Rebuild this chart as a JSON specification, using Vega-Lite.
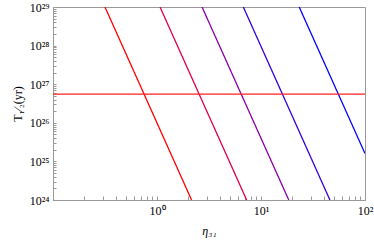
{
  "$schema": "https://vega.github.io/schema/vega-lite/v6.json",
  "autosize": "none",
  "width": 312,
  "height": 193,
  "padding": {"left": 53, "top": 7, "right": 9, "bottom": 40},
  "config": {
    "view": {"stroke": "#999999", "strokeWidth": 1},
    "font": "Liberation Serif",
    "axis": {
      "domainColor": "#999999",
      "tickColor": "#999999",
      "grid": false,
      "labelFont": "Liberation Serif",
      "titleFont": "Liberation Serif",
      "labelFontSize": 12,
      "titleFontSize": 12,
      "labelColor": "#000000",
      "titleColor": "#000000",
      "titleFontWeight": "normal",
      "labelOverlap": false,
      "labelFlush": false
    }
  },
  "data": {
    "values": [
      {"series": "a", "x": 0.316, "y": 1e29},
      {"series": "a", "x": 2.15, "y": 1e24},
      {"series": "b", "x": 1.069, "y": 1e29},
      {"series": "b", "x": 7.28, "y": 1e24},
      {"series": "c", "x": 2.71, "y": 1e29},
      {"series": "c", "x": 18.5, "y": 1e24},
      {"series": "d", "x": 6.76, "y": 1e29},
      {"series": "d", "x": 46.0, "y": 1e24},
      {"series": "e", "x": 23.3, "y": 1e29},
      {"series": "e", "x": 100, "y": 1.6e25},
      {"series": "h", "x": 0.1, "y": 5.5e26},
      {"series": "h", "x": 100, "y": 5.5e26}
    ]
  },
  "mark": {"type": "line", "strokeWidth": 1.3, "clip": true},
  "encoding": {
    "x": {
      "field": "x",
      "type": "quantitative",
      "scale": {"type": "log", "domain": [0.1, 100], "nice": false},
      "title": "η₃₁",
      "axis": {
        "values": [0.1,0.2,0.3,0.4,0.5,0.6,0.7,0.8,0.9,1,2,3,4,5,6,7,8,9,10,20,30,40,50,60,70,80,90,100],
        "tickSize": -4,
        "labelPadding": 9,
        "titlePadding": 9,
        "titleFontStyle": "italic",
        "labelExpr": "datum.value == 1 ? '10⁰' : datum.value == 10 ? '10¹' : datum.value == 100 ? '10²' : ''"
      }
    },
    "y": {
      "field": "y",
      "type": "quantitative",
      "scale": {"type": "log", "domain": [1e24, 1e29], "nice": false},
      "title": "T₁⁄₂(yr)",
      "axis": {
        "values": [1e24,2e24,3e24,4e24,5e24,6e24,7e24,8e24,9e24,1e25,2e25,3e25,4e25,5e25,6e25,7e25,8e25,9e25,1e26,2e26,3e26,4e26,5e26,6e26,7e26,8e26,9e26,1e27,2e27,3e27,4e27,5e27,6e27,7e27,8e27,9e27,1e28,2e28,3e28,4e28,5e28,6e28,7e28,8e28,9e28,1e29],
        "tickSize": -3,
        "labelPadding": 7,
        "titlePadding": 5,
        "labelExpr": "datum.value == 1e24 ? '10²⁴' : datum.value == 1e25 ? '10²⁵' : datum.value == 1e26 ? '10²⁶' : datum.value == 1e27 ? '10²⁷' : datum.value == 1e28 ? '10²⁸' : datum.value == 1e29 ? '10²⁹' : ''"
      }
    },
    "color": {
      "field": "series",
      "type": "nominal",
      "scale": {
        "domain": ["a", "b", "c", "d", "e", "h"],
        "range": ["#ff0000", "#dd0044", "#8800aa", "#3300dd", "#0000ff", "#ff2020"]
      },
      "legend": null
    }
  }
}
